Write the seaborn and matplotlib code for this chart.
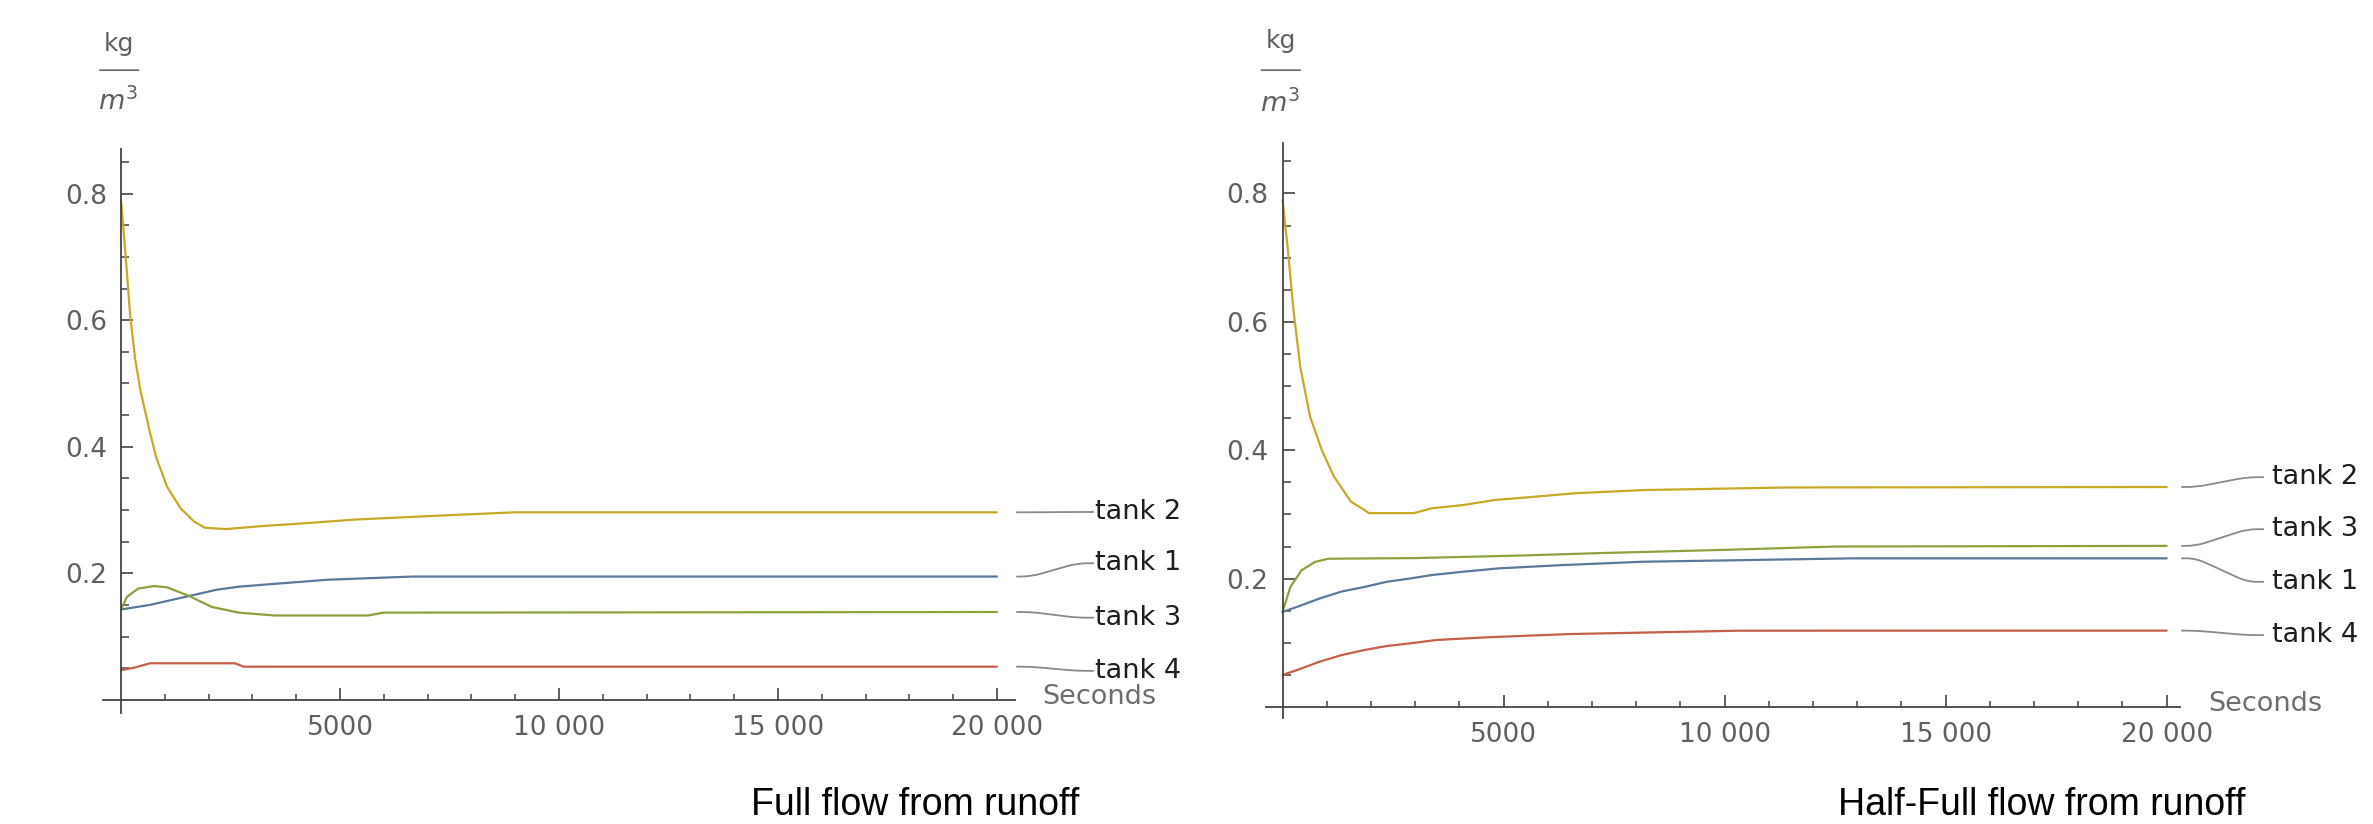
import numpy as np
import pandas as pd
import matplotlib
matplotlib.use("Agg")
import matplotlib.pyplot as plt
import seaborn as sns
from matplotlib.ticker import FixedLocator

# ---------------- data ----------------
tanks = ["tank 1", "tank 2", "tank 3", "tank 4"]

# Full flow from runoff
full_t1_time = [0, 646, 1155, 1666, 2170, 2686, 3603, 4724, 6660, 20000]
full_t1_conc = [0.143, 0.150, 0.158, 0.166, 0.174, 0.179, 0.184, 0.190, 0.195, 0.195]
full_t2_time = [0, 60, 130, 205, 320, 440, 646, 800, 1050, 1358, 1666, 1918, 2400,
                3270, 4160, 5330, 7500, 9005, 20000]
full_t2_conc = [0.79, 0.74, 0.68, 0.61, 0.54, 0.49, 0.427, 0.384, 0.337, 0.303, 0.282, 0.272,
                0.270, 0.275, 0.279, 0.285, 0.292, 0.2965, 0.2965]
full_t3_time = [0, 137, 390, 748, 1050, 1565, 2073, 2686, 3500, 5640, 6000, 20000]
full_t3_conc = [0.143, 0.163, 0.176, 0.180, 0.178, 0.164, 0.147, 0.138, 0.1335, 0.1335, 0.138, 0.139]
full_t4_time = [0, 300, 662, 2603, 2800, 20000]
full_t4_conc = [0.047, 0.051, 0.058, 0.058, 0.0526, 0.0526]

# Half-Full flow from runoff
half_t1_time = [0, 330, 837, 1343, 1852, 2352, 2866, 3375, 4080, 4898, 6307, 8141, 12909, 20000]
half_t1_conc = [0.148, 0.156, 0.169, 0.180, 0.187, 0.195, 0.200, 0.2056, 0.2107, 0.216, 0.221,
                0.2263, 0.2316, 0.2316]
half_t2_time = [0, 110, 245, 400, 625, 890, 1155, 1545, 1852, 1952, 2966, 3375, 4080, 4793,
                5707, 6619, 8193, 11439, 20000]
half_t2_conc = [0.79, 0.72, 0.62, 0.53, 0.452, 0.40, 0.36, 0.320, 0.307, 0.302, 0.302, 0.3095,
                0.3146, 0.3224, 0.3276, 0.333, 0.338, 0.342, 0.3427]
half_t3_time = [0, 177, 430, 734, 1034, 3000, 5400, 7300, 10100, 12500, 20000]
half_t3_conc = [0.148, 0.187, 0.213, 0.226, 0.231, 0.232, 0.236, 0.240, 0.245, 0.250, 0.251]
half_t4_time = [0, 330, 837, 1343, 1852, 2352, 2866, 3475, 4591, 6511, 10322, 20000]
half_t4_conc = [0.050, 0.0576, 0.0706, 0.081, 0.0888, 0.095, 0.099, 0.1044, 0.1085, 0.1137,
                0.1189, 0.119]

# label heights (layout of the callouts, in data units)
full_label_y = {"tank 1": 0.216, "tank 2": 0.297, "tank 3": 0.130, "tank 4": 0.046}
half_label_y = {"tank 1": 0.195, "tank 2": 0.358, "tank 3": 0.277, "tank 4": 0.112}

x_tick_values = [5000, 10000, 15000, 20000]
x_tick_labels = ["5000", "10 000", "15 000", "20 000"]
y_tick_values = [0.2, 0.4, 0.6, 0.8]
y_tick_labels = ["0.2", "0.4", "0.6", "0.8"]
x_minor_values = [1000, 2000, 3000, 4000, 6000, 7000, 8000, 9000, 11000, 12000, 13000, 14000,
                  16000, 17000, 18000, 19000]
y_minor_values = [0.05, 0.1, 0.15, 0.25, 0.3, 0.35, 0.45, 0.5, 0.55, 0.65, 0.7, 0.75, 0.85]

captions = ["Full flow from runoff", "Half-Full flow from runoff"]

palette = {"tank 1": "#5a7a9c", "tank 2": "#c9aa26", "tank 3": "#8ba23e", "tank 4": "#c4604a"}


def frame(times, concs):
    parts = []
    for name, t, c in zip(tanks, times, concs):
        parts.append(pd.DataFrame({"time": t, "conc": c, "tank": name}))
    return pd.concat(parts, ignore_index=True)


full_df = frame([full_t1_time, full_t2_time, full_t3_time, full_t4_time],
                [full_t1_conc, full_t2_conc, full_t3_conc, full_t4_conc])
half_df = frame([half_t1_time, half_t2_time, half_t3_time, half_t4_time],
                [half_t1_conc, half_t2_conc, half_t3_conc, half_t4_conc])

# ---------------- figure ----------------
sns.set_theme(style="white")
plt.rcParams["font.family"] = ["DejaVu Sans"]

fig = plt.figure(figsize=(23.73, 8.24), dpi=100)
ax1 = fig.add_axes([0.03439, 0.1121, 0.3931, 0.7144])
ax2 = fig.add_axes([0.5237, 0.1030, 0.3968, 0.7246])

AX_COL = "#444444"
TICK_COL = "#606060"


def style(ax, df, label_y, lead_start, lead_end, text_x, seconds_x, xb, yb, unit_y):
    sns.lineplot(data=df, x="time", y="conc", hue="tank", palette=palette, ax=ax,
                 legend=False, linewidth=1.6, estimator=None, sort=False)
    ax.set_xlim(-900, 20400)
    ax.set_ylim(-0.05, 0.88)
    ax.set_xlabel("")
    ax.set_ylabel("")
    ax.set_facecolor("white")
    ax.grid(False)
    for s in ["top", "right"]:
        ax.spines[s].set_visible(False)
    ax.spines["left"].set_position(("data", 0))
    ax.spines["bottom"].set_position(("data", 0))
    ax.spines["bottom"].set_bounds(*xb)
    ax.spines["left"].set_bounds(*yb)
    for s in ["left", "bottom"]:
        ax.spines[s].set_color(AX_COL)
        ax.spines[s].set_linewidth(1.3)
    ax.set_xticks(x_tick_values, x_tick_labels)
    ax.set_yticks(y_tick_values, y_tick_labels)
    ax.xaxis.set_minor_locator(FixedLocator(x_minor_values))
    ax.yaxis.set_minor_locator(FixedLocator(y_minor_values))
    ax.tick_params(which="both", bottom=True, left=True, top=False, right=False)
    ax.tick_params(which="major", direction="in", length=8.5, width=1.2, color=AX_COL,
                   labelsize=19, labelcolor=TICK_COL)
    ax.tick_params(which="minor", direction="in", length=4.0, width=1.1, color=AX_COL)
    ax.tick_params(axis="x", which="major", pad=11)
    ax.tick_params(axis="y", which="major", pad=10)
    ax.tick_params(axis="y", which="minor", length=5.5)
    # callouts
    for name in tanks:
        sub = df[df["tank"] == name]
        end_val = sub["conc"].iloc[-1]
        ly = label_y[name]
        ax.annotate("", xy=(lead_end, ly), xytext=(lead_start, end_val),
                    xycoords="data", textcoords="data", annotation_clip=False,
                    arrowprops=dict(arrowstyle="-", color="#8a8a8a", lw=1.3,
                                    shrinkA=0, shrinkB=0,
                                    connectionstyle="arc,angleA=0,angleB=180,armA=14,armB=16,rad=10"))
        ax.text(text_x, ly, name, ha="left", va="center", fontsize=19.5, color="#1e1e1e",
                clip_on=False)
    ax.text(seconds_x, 0.004, "Seconds", ha="left", va="center", fontsize=19.5,
            color="#6e6e6e", clip_on=False)
    # unit label kg / m^3
    ax.text(-40, unit_y[0], "kg", ha="center", va="center", fontsize=18, color=TICK_COL,
            clip_on=False)
    ax.annotate("", xy=(-480, unit_y[1]), xytext=(400, unit_y[1]), annotation_clip=False,
                arrowprops=dict(arrowstyle="-", color="#707070", lw=1.3, shrinkA=0, shrinkB=0))
    ax.text(-60, unit_y[2], r"$m^{3}$", ha="center", va="center", fontsize=19.5, color=TICK_COL,
            clip_on=False)


style(ax1, full_df, full_label_y, 20457, 22200, 22237, 21027,
      (-410, 20410), (-0.02, 0.87), (1.036, 0.995, 0.945))
style(ax2, half_df, half_label_y, 20344, 22186, 22376, 20939,
      (-380, 20306), (-0.017, 0.878), (1.037, 0.992, 0.94))

fig.text(915 / 2373, 1 - 805 / 824, captions[0], ha="center", va="center", fontsize=27,
         family="Liberation Sans", color="black")
fig.text(2042 / 2373, 1 - 805 / 824, captions[1], ha="center", va="center", fontsize=27,
         family="Liberation Sans", color="black")

fig.savefig("out.png", dpi=100, facecolor="white")
